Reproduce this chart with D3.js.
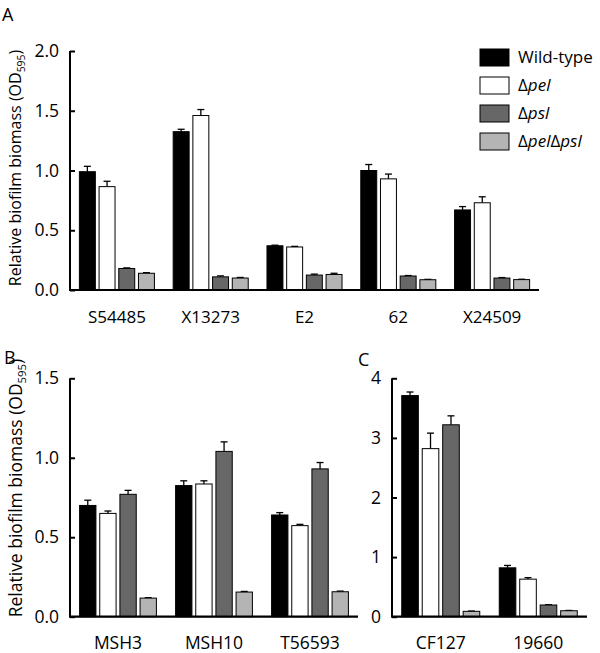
<!DOCTYPE html>
<html><head><meta charset="utf-8">
<script src="https://cdn.jsdelivr.net/npm/d3@7"></script>
<style>
body{margin:0;background:#fff;}
svg{display:block;font-family:"Open Sans",sans-serif;}
</style></head>
<body><svg id="c" width="600" height="653"></svg>
<script>
const seriesNames = ["Wild-type", "Δpel", "Δpsl", "ΔpelΔpsl"];
const seriesColors = ["#000000", "#ffffff", "#676767", "#b4b4b4"];

const catsA = ["S54485", "X13273", "E2", "62", "X24509"];
const valsA = [
  [0.99, 0.865, 0.18, 0.14],
  [1.325, 1.46, 0.11, 0.10],
  [0.37, 0.36, 0.125, 0.13],
  [1.0, 0.93, 0.117, 0.086],
  [0.67, 0.73, 0.10, 0.087]
];
const errA = [
  [0.045, 0.045, 0.005, 0.005],
  [0.02, 0.05, 0.008, 0.005],
  [0.005, 0.005, 0.008, 0.01],
  [0.05, 0.04, 0.004, 0.003],
  [0.028, 0.05, 0.004, 0.003]
];
const ticksA = [0, 0.5, 1.0, 1.5, 2.0];

const catsB = ["MSH3", "MSH10", "T56593"];
const valsB = [
  [0.70, 0.65, 0.77, 0.117],
  [0.825, 0.835, 1.04, 0.155],
  [0.64, 0.573, 0.93, 0.157]
];
const errB = [
  [0.033, 0.015, 0.025, 0.003],
  [0.03, 0.02, 0.06, 0.004],
  [0.015, 0.008, 0.04, 0.004]
];
const ticksB = [0, 0.5, 1.0, 1.5];

const catsC = ["CF127", "19660"];
const valsC = [
  [3.71, 2.82, 3.22, 0.09],
  [0.82, 0.63, 0.196, 0.10]
];
const errC = [
  [0.06, 0.26, 0.15, 0.005],
  [0.04, 0.025, 0.005, 0.005]
];
const ticksC = [0, 1, 2, 3, 4];

const svg = d3.select("#c");

function panel(cfg) {
  const g = svg.append("g");
  const x = d3.scaleBand().domain(cfg.cats).range([cfg.x0, cfg.x1]).paddingInner(0.2).paddingOuter(0.1);
  const xi = d3.scaleBand().domain(d3.range(seriesNames.length)).range([0, x.bandwidth()]).paddingInner(0.19);
  const y = d3.scaleLinear().domain([0, cfg.ymax]).range([cfg.y0, cfg.y1]);

  const grp = g.selectAll("g.grp").data(cfg.cats).enter().append("g")
    .attr("transform", d => `translate(${x(d)},0)`);
  grp.each(function(c, ci) {
    const gg = d3.select(this);
    cfg.vals[ci].forEach((v, si) => {
      const bx = xi(si), bw = xi.bandwidth();
      const e = cfg.errs[ci][si];
      const cx = bx + bw / 2;
      gg.append("line").attr("x1", cx).attr("x2", cx)
        .attr("y1", y(v)).attr("y2", y(v + e))
        .attr("stroke", "#000").attr("stroke-width", 1.3);
      gg.append("line").attr("x1", cx - 3.5).attr("x2", cx + 3.5)
        .attr("y1", y(v + e)).attr("y2", y(v + e))
        .attr("stroke", "#000").attr("stroke-width", 1.3);
      gg.append("rect").attr("x", bx).attr("width", bw)
        .attr("y", y(v)).attr("height", y(0) - y(v))
        .attr("fill", seriesColors[si]).attr("stroke", "#000").attr("stroke-width", 1);
    });
  });

  const ya = d3.axisLeft(y).tickValues(cfg.ticks).tickFormat(cfg.fmt)
    .tickSizeInner(-5).tickSizeOuter(0).tickPadding(11);
  const yg = g.append("g").attr("transform", `translate(${cfg.x0},0)`).call(ya);
  yg.select(".domain").attr("stroke-width", 2).attr("d", `M0,${cfg.y0}V${cfg.y1}`);
  yg.selectAll(".tick line").attr("stroke-width", 2);
  yg.selectAll(".tick text").attr("font-size", 17.5).attr("fill", "#000").attr("font-family", "Open Sans");

  const xa = d3.axisBottom(x).tickSize(0).tickPadding(cfg.xpad);
  const xg = g.append("g").attr("transform", `translate(0,${cfg.y0})`).call(xa);
  xg.select(".domain").attr("stroke-width", 2.2).attr("d", `M${cfg.x0 - 1},0H${cfg.x1}`);
  xg.selectAll(".tick text").attr("font-size", cfg.xfs).attr("fill", "#000").attr("font-family", "Open Sans");

  g.append("text").attr("x", cfg.lx).attr("y", cfg.ly).attr("font-size", 18).text(cfg.letter);

  if (cfg.title) {
    const t = g.append("text")
      .attr("transform", `translate(${cfg.tx},${cfg.ty}) rotate(-90)`)
      .attr("text-anchor", "middle").attr("font-size", cfg.tfs);
    t.append("tspan").text("Relative biofilm biomass (OD");
    t.append("tspan").attr("font-size", cfg.tfs * 0.65).attr("dy", 4).text("595");
    t.append("tspan").attr("dy", -4).text(")");
  }
}

panel({cats: catsA, vals: valsA, errs: errA, ticks: ticksA, fmt: d3.format(".1f"),
  x0: 70, x1: 539, y0: 290, y1: 51, ymax: 2.0, letter: "A", lx: 2, ly: 21,
  title: true, tx: 21, ty: 168, tfs: 16, xfs: 17, xpad: 21});
panel({cats: catsB, vals: valsB, errs: errB, ticks: ticksB, fmt: d3.format(".1f"),
  x0: 70, x1: 358, y0: 616.7, y1: 378.3, ymax: 1.5, letter: "B", lx: 4, ly: 364,
  title: true, tx: 22, ty: 488, tfs: 17.5, xfs: 17.5, xpad: 20});
panel({cats: catsC, vals: valsC, errs: errC, ticks: ticksC, fmt: d3.format("d"),
  x0: 392, x1: 587, y0: 616.7, y1: 378.3, ymax: 4, letter: "C", lx: 358, ly: 366,
  title: false, xfs: 17.5, xpad: 20});

// legend
const lg = svg.append("g");
seriesNames.forEach((n, i) => {
  const yy = 49 + i * 28;
  lg.append("rect").attr("x", 480).attr("y", yy).attr("width", 29).attr("height", 17)
    .attr("fill", seriesColors[i]).attr("stroke", "#000").attr("stroke-width", 1);
  const t = lg.append("text").attr("x", 518).attr("y", yy + 14).attr("font-size", 17);
  if (i === 0) t.text(n);
  else {
    const parts = n.split(/(Δ)/).filter(s => s);
    parts.forEach(p => {
      t.append("tspan").attr("font-style", p === "Δ" ? "normal" : "italic").text(p);
    });
  }
});
</script></body></html>
